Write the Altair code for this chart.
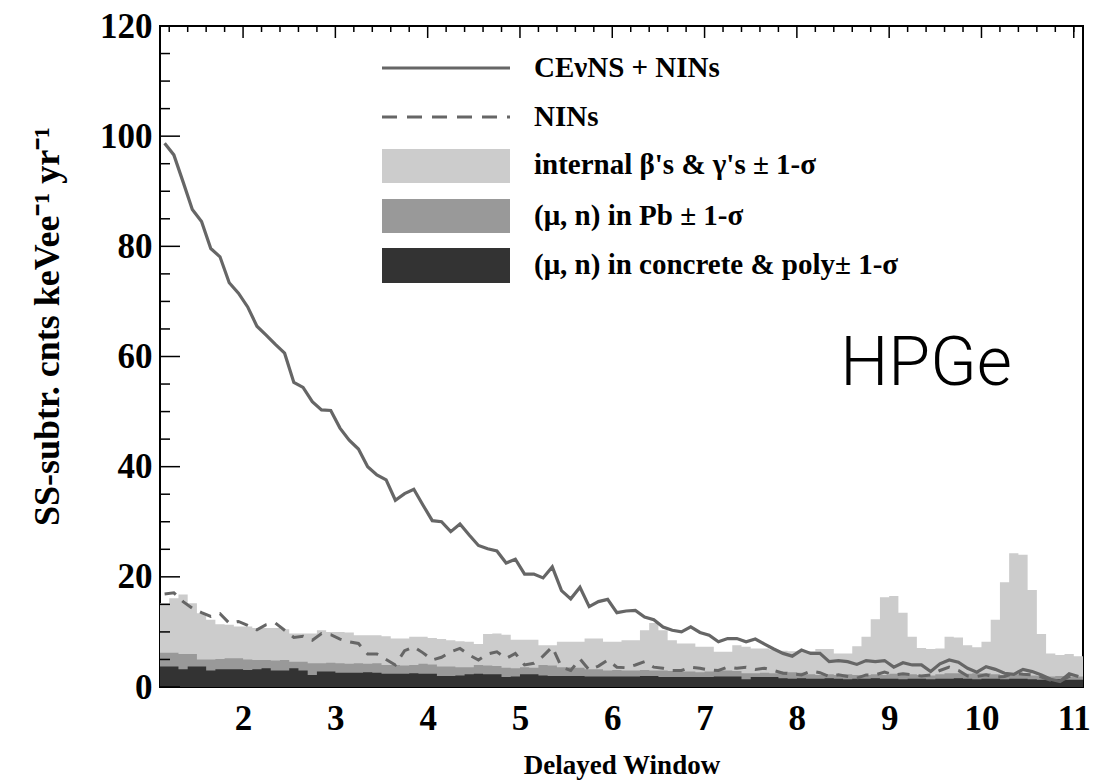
import altair as alt
import pandas as pd

# ---------------- data ----------------
# 100 bins of width 0.1 from 1.1 to 11.1
cevns_nins = [98.7, 96.6, 91.7, 86.7, 84.5, 79.6, 78.1, 73.4, 71.5, 69.0,
              65.5, 63.9, 62.2, 60.6, 55.3, 54.4, 51.8, 50.3, 50.2, 47.0,
              44.8, 43.2, 40.0, 38.5, 37.6, 33.9, 35.1, 35.9, 33.0, 30.2,
              30.0, 28.2, 29.6, 27.6, 25.7, 25.1, 24.7, 22.5, 23.2, 20.5,
              20.5, 19.8, 21.8, 17.5, 16.0, 18.1, 14.6, 15.5, 15.9, 13.5,
              13.8, 13.9, 12.7, 12.2, 10.9, 10.3, 10.0, 10.9, 9.9, 9.4,
              8.2, 8.8, 8.8, 8.2, 8.7, 7.8, 6.9, 6.1, 5.6, 6.7,
              6.1, 6.1, 4.6, 4.8, 4.6, 4.1, 4.8, 4.6, 4.8, 3.6,
              4.4, 4.0, 4.0, 2.8, 4.2, 4.9, 4.5, 3.4, 2.7, 3.7,
              3.2, 2.5, 2.3, 3.2, 2.8, 2.2, 1.4, 1.0, 2.4, 1.9]

nins = [16.9, 17.1, 15.5, 14.3, 13.5, 12.8, 13.3, 11.6, 11.9, 11.2,
        10.4, 11.3, 11.6, 10.3, 9.0, 9.2, 8.5, 9.7, 9.5, 8.7,
        8.2, 7.9, 6.0, 6.0, 5.0, 4.0, 6.6, 7.3, 6.2, 4.9,
        5.4, 6.4, 7.0, 5.8, 4.9, 6.0, 6.4, 5.2, 6.1, 4.0,
        4.3, 5.6, 7.3, 3.6, 3.0, 5.1, 3.1, 3.8, 4.9, 3.6,
        3.5, 4.0, 4.6, 3.6, 3.4, 3.0, 3.0, 3.6, 3.4, 3.1,
        3.0, 3.6, 3.4, 3.6, 3.2, 3.4, 3.0, 2.5, 2.4, 2.2,
        2.9, 2.6, 1.9, 2.2, 1.9, 1.6, 2.2, 2.2, 2.7, 2.2,
        2.4, 2.2, 2.0, 2.2, 3.0, 3.6, 3.0, 2.0, 1.9, 2.2,
        1.8, 1.9, 2.5, 2.3, 2.2, 1.8, 1.2, 1.0, 1.9, 2.0]

internal_beta_gamma = [15.2, 16.1, 16.8, 15.2, 13.4, 12.2, 11.4, 11.3, 11.0, 11.0,
                       10.7, 10.7, 10.7, 10.5, 9.7, 9.7, 9.7, 10.3, 10.0, 10.0,
                       9.9, 9.4, 9.4, 9.4, 9.2, 8.8, 8.8, 9.1, 9.1, 8.9,
                       8.7, 8.5, 8.3, 8.2, 7.8, 9.6, 9.7, 9.5, 8.6, 8.6,
                       8.6, 7.6, 7.6, 8.2, 8.2, 8.2, 8.8, 8.8, 8.2, 8.2,
                       8.5, 8.5, 10.3, 11.6, 10.3, 8.5, 7.9, 7.9, 7.3, 7.3,
                       6.4, 6.4, 7.6, 7.3, 7.0, 7.0, 6.8, 6.6, 6.5, 6.6,
                       6.5, 6.9, 6.9, 6.1, 6.1, 7.4, 9.1, 12.3, 16.3, 16.5,
                       13.5, 9.1, 7.1, 6.9, 7.0, 9.1, 9.0, 7.6, 7.2, 8.2,
                       12.2, 19.0, 24.3, 24.0, 17.6, 9.6, 6.1, 5.8, 6.0, 5.6]

mun_pb = [6.2, 6.2, 6.0, 6.0, 5.0, 5.0, 5.1, 5.2, 5.2, 5.0,
          4.9, 4.9, 4.8, 4.9, 4.6, 4.6, 4.3, 4.3, 4.4, 4.3,
          4.2, 4.3, 4.2, 4.3, 4.0, 4.0, 3.9, 4.0, 4.2, 4.1,
          3.7, 3.7, 3.6, 3.6, 4.0, 3.9, 3.8, 3.5, 3.4, 3.6,
          3.5, 4.0, 3.9, 3.6, 3.6, 3.5, 3.2, 3.2, 3.0, 3.1,
          3.0, 3.0, 3.1, 3.0, 3.0, 2.9, 2.8, 2.8, 2.7, 2.8,
          3.0, 3.0, 2.9, 2.5, 2.5, 2.6, 2.5, 2.8, 2.7, 2.6,
          2.3, 2.2, 2.3, 2.2, 2.3, 2.2, 2.2, 2.3, 2.2, 2.4,
          2.2, 2.3, 2.2, 2.1, 2.3, 2.5, 2.5, 2.4, 2.5, 2.5,
          2.3, 2.2, 2.3, 2.2, 2.1, 2.0, 1.9, 2.0, 1.9, 1.9]

mun_concrete_poly = [3.7, 3.7, 3.2, 3.7, 3.7, 3.0, 3.2, 3.2, 3.2, 3.1,
                     3.2, 3.4, 3.0, 3.0, 3.4, 3.0, 2.2, 2.8, 2.8, 2.6,
                     2.6, 2.6, 2.7, 2.6, 2.4, 2.4, 2.4, 2.5, 2.4, 2.4,
                     2.0, 2.0, 2.1, 2.3, 2.4, 2.3, 2.3, 1.8, 1.9, 2.3,
                     2.3, 2.1, 2.0, 2.0, 2.0, 2.0, 1.9, 1.9, 1.9, 1.9,
                     1.9, 1.9, 2.0, 2.0, 1.8, 1.8, 1.8, 1.8, 1.8, 1.8,
                     1.9, 1.9, 1.9, 1.4, 1.8, 1.8, 1.8, 1.6, 1.5, 1.6,
                     1.5, 1.5, 1.6, 1.5, 1.4, 1.5, 1.5, 1.6, 1.5, 1.5,
                     1.4, 1.5, 1.5, 1.4, 1.5, 1.5, 1.6, 1.5, 1.4, 1.5,
                     1.5, 1.4, 1.5, 1.5, 1.4, 1.3, 1.3, 1.4, 1.3, 1.3]

x_tick_labels = [2, 3, 4, 5, 6, 7, 8, 9, 10, 11]
x_minor_ticks = [1.2, 1.4, 1.6, 1.8, 2.2, 2.4, 2.6, 2.8, 3.2, 3.4, 3.6, 3.8,
                 4.2, 4.4, 4.6, 4.8, 5.2, 5.4, 5.6, 5.8, 6.2, 6.4, 6.6, 6.8,
                 7.2, 7.4, 7.6, 7.8, 8.2, 8.4, 8.6, 8.8, 9.2, 9.4, 9.6, 9.8,
                 10.2, 10.4, 10.6, 10.8, 11.0]
y_tick_labels = [0, 20, 40, 60, 80, 100, 120]
y_minor_ticks = [5, 10, 15, 25, 30, 35, 45, 50, 55, 65, 70, 75, 85, 90, 95,
                 105, 110, 115]

legend_labels = ["CE\u03bdNS + NINs", "NINs",
                 "internal \u03b2's & \u03b3's \u00b1 1-\u03c3",
                 "(\u03bc, n) in Pb \u00b1 1-\u03c3",
                 "(\u03bc, n) in concrete & poly\u00b1 1-\u03c3"]

# ---------------- tables ----------------
centers = [round(1.15 + 0.1 * i, 2) for i in range(len(cevns_nins))]
edges = [round(1.1 + 0.1 * i, 2) for i in range(len(cevns_nins) + 1)]

lines_df = pd.DataFrame({"x": centers, "total": cevns_nins, "nins": nins})
area_df = pd.DataFrame({
    "x": edges,
    "light": internal_beta_gamma + [internal_beta_gamma[-1]],
    "mid": mun_pb + [mun_pb[-1]],
    "dark": mun_concrete_poly + [mun_concrete_poly[-1]],
})

W, H = 923, 661
SERIF = "Liberation Serif"
LINE_GREY = "#666666"

xscale = alt.Scale(domain=[1.1, 11.1], nice=False, zero=False)
yscale = alt.Scale(domain=[0, 120], nice=False)

x_axis = alt.Axis(values=x_tick_labels, format="d", ticks=False, domain=False,
                  grid=False, labelFont=SERIF, labelFontSize=35,
                  labelFontWeight="bold", labelColor="black", labelPadding=14,
                  title="Delayed Window", titleFont=SERIF, titleFontSize=27,
                  titleFontWeight="bold", titleColor="black",
                  titleX=W / 2, titleY=78, titleBaseline="middle")
y_axis = alt.Axis(values=y_tick_labels, format="d", ticks=False, domain=False,
                  grid=False, labelFont=SERIF, labelFontSize=35,
                  labelFontWeight="bold", labelColor="black", labelPadding=8,
                  title="SS-subtr. cnts keVee\u207b\u00b9 yr\u207b\u00b9",
                  titleFont=SERIF, titleFontSize=36, titleFontWeight="bold",
                  titleColor="black", titleAngle=270, titleX=-113, titleY=300,
                  titleAlign="center", titleBaseline="middle")

base_area = alt.Chart(area_df)

light = base_area.mark_area(interpolate="step-after", color="#cccccc").encode(
    x=alt.X("x:Q", scale=xscale, axis=x_axis),
    y=alt.Y("light:Q", scale=yscale, axis=y_axis))
mid = base_area.mark_area(interpolate="step-after", color="#999999").encode(
    x=alt.X("x:Q", scale=xscale), y=alt.Y("mid:Q", scale=yscale))
dark = base_area.mark_area(interpolate="step-after", color="#333333").encode(
    x=alt.X("x:Q", scale=xscale), y=alt.Y("dark:Q", scale=yscale))

dashed = alt.Chart(lines_df).mark_line(color=LINE_GREY, strokeWidth=3,
                                       strokeDash=[12, 9]).encode(
    x=alt.X("x:Q", scale=xscale), y=alt.Y("nins:Q", scale=yscale))
solid = alt.Chart(lines_df).mark_line(color=LINE_GREY, strokeWidth=3.2).encode(
    x=alt.X("x:Q", scale=xscale), y=alt.Y("total:Q", scale=yscale))

# inward ticks
ymaj = alt.Chart(pd.DataFrame({"v": y_tick_labels})).mark_rule(
    color="black", strokeWidth=1.5).encode(
    y=alt.Y("v:Q", scale=yscale), x=alt.value(0), x2=alt.value(20))
ymin = alt.Chart(pd.DataFrame({"v": y_minor_ticks})).mark_rule(
    color="black", strokeWidth=1.5).encode(
    y=alt.Y("v:Q", scale=yscale), x=alt.value(0), x2=alt.value(10))
xmaj = alt.Chart(pd.DataFrame({"v": x_tick_labels})).mark_rule(
    color="black", strokeWidth=1.5).encode(
    x=alt.X("v:Q", scale=xscale), y=alt.value(0), y2=alt.value(12))
xmin = alt.Chart(pd.DataFrame({"v": x_minor_ticks})).mark_rule(
    color="black", strokeWidth=1.5).encode(
    x=alt.X("v:Q", scale=xscale), y=alt.value(0), y2=alt.value(6))

# legend
one = alt.Data(values=[{"k": 0}])
leg_solid = alt.Chart(one).mark_rule(color=LINE_GREY, strokeWidth=3).encode(
    x=alt.value(222), x2=alt.value(350), y=alt.value(42))
leg_dash = alt.Chart(one).mark_rule(color=LINE_GREY, strokeWidth=3,
                                    strokeDash=[15, 10]).encode(
    x=alt.value(222), x2=alt.value(350), y=alt.value(91))
leg_light = alt.Chart(one).mark_rect(color="#cccccc").encode(
    x=alt.value(222), x2=alt.value(350), y=alt.value(123), y2=alt.value(157))
leg_mid = alt.Chart(one).mark_rect(color="#999999").encode(
    x=alt.value(222), x2=alt.value(350), y=alt.value(173), y2=alt.value(207))
leg_dark = alt.Chart(one).mark_rect(color="#333333").encode(
    x=alt.value(222), x2=alt.value(350), y=alt.value(222), y2=alt.value(257))

leg_text_y = [42, 91, 139, 190, 239]
leg_texts = [
    alt.Chart(one).mark_text(text=lab, font=SERIF, fontSize=29,
                             fontWeight="bold", color="black", align="left",
                             baseline="middle").encode(
        x=alt.value(374), y=alt.value(yy))
    for lab, yy in zip(legend_labels, leg_text_y)
]

hpge = alt.Chart(one).mark_text(text="HPGe", font="Roboto", fontWeight=300,
                                fontSize=68, color="black", align="center",
                                baseline="middle").encode(
    x=alt.value(766), y=alt.value(339))

chart = alt.layer(
    light, mid, dark, dashed, solid, ymaj, ymin, xmaj, xmin,
    leg_solid, leg_dash, leg_light, leg_mid, leg_dark, *leg_texts, hpge
).properties(
    width=W, height=H,
    padding={"left": 160, "top": 26, "right": 35, "bottom": 95},
    autosize=alt.AutoSizeParams(type="none"),
    background="white",
).configure_view(stroke="black", strokeWidth=2)

chart.save("out.html", embed_options={"renderer": "svg", "actions": False})
